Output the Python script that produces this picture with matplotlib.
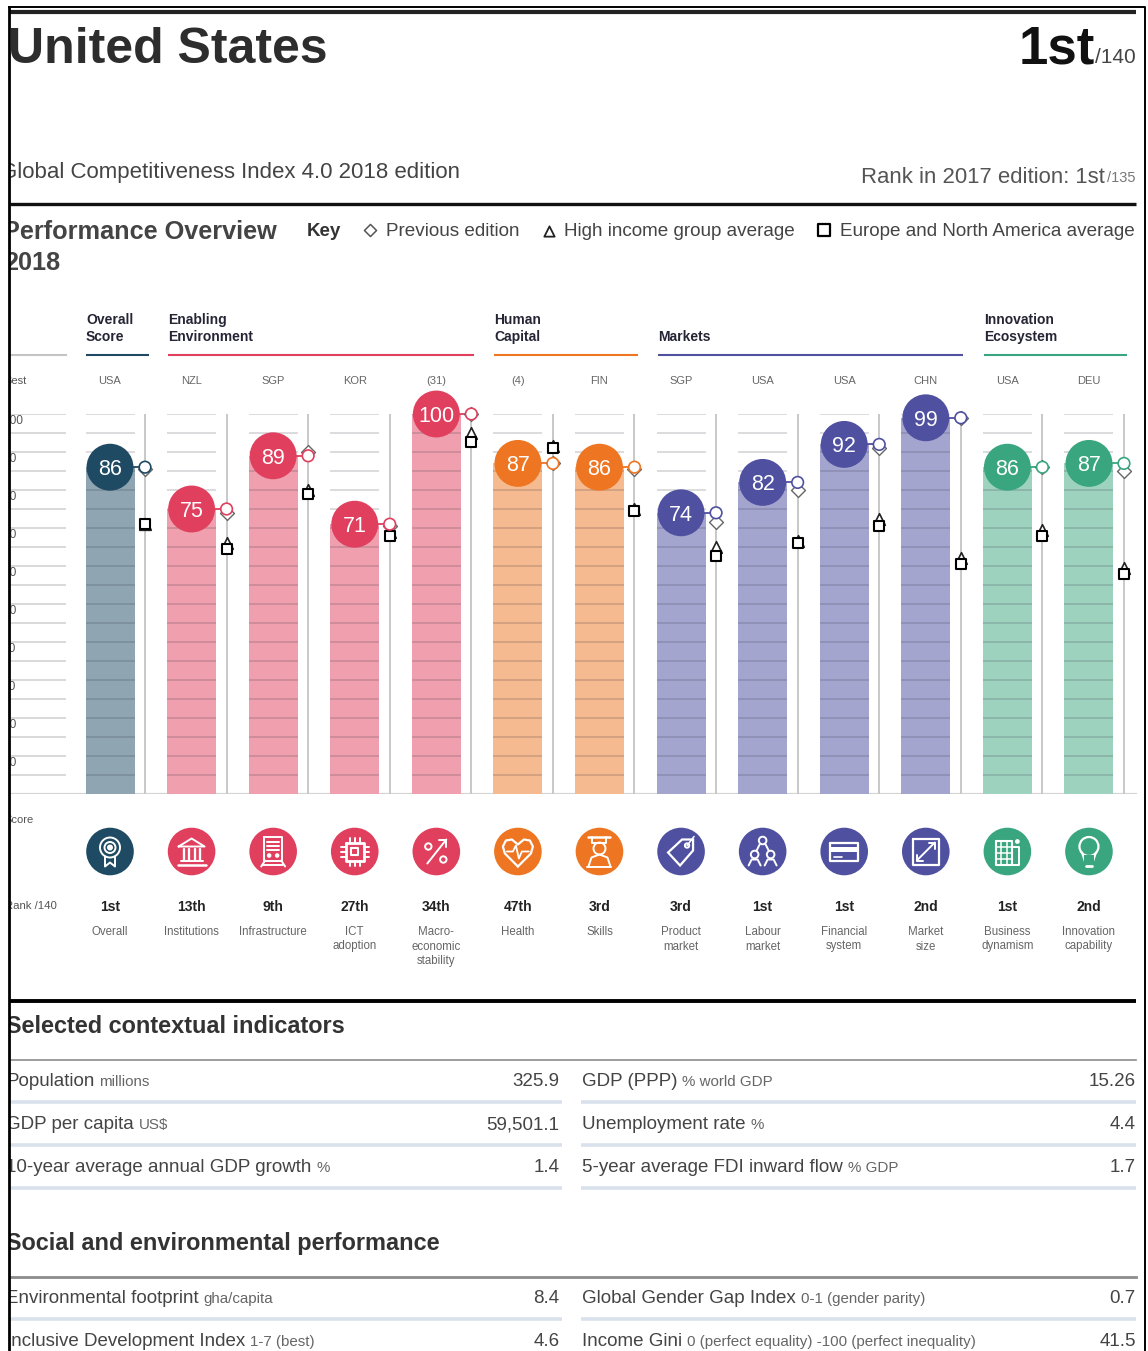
import matplotlib
matplotlib.use("Agg")
import matplotlib.pyplot as plt
from matplotlib.patches import Circle, Rectangle, Polygon

plt.rcParams['font.family'] = ['Liberation Sans', 'DejaVu Sans']

# ---------- data ----------
countries = ["USA", "NZL", "SGP", "KOR", "(31)", "(4)", "FIN", "SGP", "USA", "USA", "CHN", "USA", "DEU"]
scores = [86, 75, 89, 71, 100, 87, 86, 74, 82, 92, 99, 86, 87]
previous = [85.5, 74, 90, 70.5, 100, 87, 85.5, 71.5, 80, 91, 99, 86, 85]
high_income = [71, 66, 80, 69, 95, 91.5, 75, 65, 66.5, 72.5, 62, 69.5, 59.5]
regional = [71, 64.5, 79, 68, 92.5, 91, 74.5, 62.5, 66, 70.5, 60.5, 68, 58]
ranks = ["1st", "13th", "9th", "27th", "34th", "47th", "3rd", "3rd", "1st", "1st", "2nd", "1st", "2nd"]
pillars = ["Overall", "Institutions", "Infrastructure", "ICT\nadoption", "Macro-\neconomic\nstability",
           "Health", "Skills", "Product\nmarket", "Labour\nmarket", "Financial\nsystem",
           "Market\nsize", "Business\ndynamism", "Innovation\ncapability"]
groups = ["overall", "enabling", "enabling", "enabling", "enabling", "human", "human",
          "markets", "markets", "markets", "markets", "innovation", "innovation"]
dark = {"overall": "#1f4a63", "enabling": "#e03f5e", "human": "#ee7521", "markets": "#4f51a0", "innovation": "#3aa680"}
light = {"overall": "#8fa5b2", "enabling": "#ef9fae", "human": "#f6ba90", "markets": "#a4a5cf", "innovation": "#9dd2bf"}
group_titles = [("Overall", "Score"), ("Enabling", "Environment"), ("Human", "Capital"), ("", "Markets"), ("Innovation", "Ecosystem")]
group_keys = ["overall", "enabling", "human", "markets", "innovation"]
tick_values = list(range(100, -1, -10))
grid_values = list(range(100, -1, -5))

context_left = [("Population", "millions", "325.9"), ("GDP per capita", "US$", "59,501.1"),
                ("10-year average annual GDP growth", "%", "1.4")]
context_right = [("GDP (PPP)", "% world GDP", "15.26"), ("Unemployment rate", "%", "4.4"),
                 ("5-year average FDI inward flow", "% GDP", "1.7")]
social_left = [("Environmental footprint", "gha/capita", "8.4"), ("Inclusive Development Index", "1-7 (best)", "4.6")]
social_right = [("Global Gender Gap Index", "0-1 (gender parity)", "0.7"),
                ("Income Gini", "0 (perfect equality) -100 (perfect inequality)", "41.5")]

# ---------- layout ----------
W, H = 1148, 1351
fig = plt.figure(figsize=(W / 100, H / 100), dpi=100, facecolor="white")
tx = fig.add_axes([10 / W, 0, (W - 10) / W, 1], zorder=5)
tx.set_xlim(10, W); tx.set_ylim(H, 0); tx.axis("off"); tx.patch.set_alpha(0)
ax = fig.add_axes([10 / W, (H - 794) / H, (W - 10) / W, 380 / H], zorder=3)
STEP = 81.58
ax.set_xlim((10 - 110) / STEP, (W - 110) / STEP); ax.set_ylim(0, 100); ax.axis("off")
renderer = fig.canvas.get_renderer()


def T(x, y, s, size, color="#3c3c3c", ha="left", va="baseline", weight="normal", **kw):
    return tx.text(x, y, s, fontsize=size, color=color, ha=ha, va=va, fontweight=weight, clip_on=True, **kw)


def px(i):
    return ax.transData.transform((i, 0))[0]


# frame and rules
tx.plot([9.3, 9.3], [H, 7], color="black", lw=2.0, clip_on=False, zorder=20)
tx.plot([9, 1145, 1145], [7, 7, H], color="black", lw=1.4, clip_on=False)
tx.plot([10, 1136], [12, 12], color="#222222", lw=3, solid_capstyle="butt")
tx.plot([10, 1136], [204, 204], color="#111111", lw=2.4, solid_capstyle="butt")
tx.plot([10, 1136], [1001, 1001], color="#000000", lw=2.8, solid_capstyle="butt")

# header
T(8, 63, "United States", 36, color="#2d2d2d", weight="bold")
T(1095, 63, "1st", 38, color="#111111", weight="bold", ha="right")
T(1136, 63, "/140", 15, color="#444444", ha="right")
T(0, 178, "Global Competitiveness Index 4.0 2018 edition", 16, color="#444444")
T(1105, 183, "Rank in 2017 edition: 1st", 15.9, color="#555555", ha="right")
T(1136, 182, "/135", 10.5, color="#777777", ha="right")
T(3, 239, "Performance Overview", 18.2, color="#444444", weight="bold")
T(4, 270, "2018", 18.2, color="#444444", weight="bold")
T(307, 236, "Key", 13.5, color="#333333", weight="bold")
T(386, 236, "Previous edition", 13.6, color="#444444")
T(564, 236, "High income group average", 13.6, color="#444444")
T(840, 236, "Europe and North America average", 13.6, color="#444444")
tx.scatter([370], [230], marker="D", s=38, facecolor="white", edgecolor="#555555", lw=1.1)
tx.scatter([549], [231], marker="^", s=55, facecolor="white", edgecolor="#222222", lw=1.3)
tx.scatter([824], [230], marker="s", s=85, facecolor="white", edgecolor="black", lw=1.6)

# group headers
spans = [(86, 149), (168, 474), (494, 638), (658, 963), (984, 1127)]
for (x0, x1), key, (l1, l2) in zip(spans, group_keys, group_titles):
    tx.plot([x0, x1], [355, 355], color=dark[key], lw=1.5, solid_capstyle="butt")
    if l1:
        T(x0, 324, l1, 10, color="#252535", weight="bold")
    T(x0, 341, l2, 10, color="#252535", weight="bold")
tx.plot([10, 66], [355, 355], color="#c4c4c4", lw=1.5)

# left scale
T(4, 381, "Best", 8, color="#555555", va="center")
T(4, 820, "Score", 8, color="#555555", va="center")
T(5, 906, "Rank /140", 8.2, color="#555555", va="center")
for v in tick_values:
    a = ax.annotate(str(v), (ax.get_xlim()[0], v), xytext=(-7 * 0.72, -5), textcoords="offset points",
                    fontsize=8.6, color="#555555", va="center", ha="left", annotation_clip=False)
    a.set_clip_on(True); a.set_clip_box(tx.bbox)

# chart
xs = list(range(len(scores)))
BAR_W = 49 / STEP
OFF = 35 / STEP
left_end = (66 - 110) / STEP
ax.axhline(0, color="#d4d4d4", lw=1.6, zorder=1, xmax=(1136 - 10) / (W - 10))
ax.hlines(grid_values[:-1], ax.get_xlim()[0], left_end, color="#cfcfcf", lw=1.1, zorder=1)
ax.bar(xs, scores, width=BAR_W, color=[light[g] for g in groups], zorder=2)
for i, g in zip(xs, groups):
    ax.hlines(grid_values[:-1], i - BAR_W / 2, i + BAR_W / 2, color=(0.15, 0.15, 0.2, 0.19), lw=1.2, zorder=3)
    ax.vlines(i + OFF, 0, 100, color="#c8c8c8", lw=1.4, zorder=3)
    ax.plot([i, i + OFF], [scores[i]] * 2, color=dark[g], lw=1.3, zorder=4, clip_on=False)
ox = [i + OFF for i in xs]
ax.scatter(ox, previous, marker="D", s=50, facecolor="white", edgecolor="#666666", lw=1.0, zorder=5, clip_on=False)
ax.scatter(ox, high_income, marker="^", s=70, facecolor="white", edgecolor="#222222", lw=1.2, zorder=6, clip_on=False)
ax.scatter(ox, regional, marker="s", s=62, facecolor="white", edgecolor="black", lw=1.5, zorder=7, clip_on=False)
ax.scatter(ox, scores, marker="o", s=70, facecolor="white", edgecolor=[dark[g] for g in groups], lw=1.2, zorder=8, clip_on=False)
ax.scatter(xs, scores, marker="o", s=1140, color=[dark[g] for g in groups], zorder=9, clip_on=False, lw=0)
for i in xs:
    ax.text(i, scores[i], str(scores[i]), color="white", fontsize=15.5, ha="center", va="center_baseline", zorder=10, clip_on=False)
    T(px(i), 381, countries[i], 8, color="#666666", ha="center", va="center")
    T(px(i), 907, ranks[i], 10, color="#222222", ha="center", va="center", weight="bold")
    for k, line in enumerate(pillars[i].split("\n")):
        T(px(i), 932 + 14.5 * k, line, 8.3, color="#666666", ha="center", va="center")


# icons (decorative white line glyphs)
def L(cx, cy, pts, lw=1.4):
    tx.plot([cx + p[0] for p in pts], [cy + p[1] for p in pts], color="white", lw=lw, solid_joinstyle="round", solid_capstyle="round")


def C(cx, cy, x, y, r, fill=False, lw=1.4):
    tx.add_patch(Circle((cx + x, cy + y), r, facecolor="white" if fill else "none", edgecolor="white", lw=lw))


def R(cx, cy, x0, y0, x1, y1, lw=1.4):
    L(cx, cy, [(x0, y0), (x1, y0), (x1, y1), (x0, y1), (x0, y0)], lw)


def icon(i, c, y):
    if i == 0:
        C(c, y, 0, -4, 10); C(c, y, 0, -4, 5.5); C(c, y, 0, -4, 2, True)
        L(c, y, [(-5, 5), (-5, 15), (0, 11), (5, 15), (5, 5)])
    elif i == 1:
        L(c, y, [(-13, -5), (0, -13), (13, -5), (-13, -5)])
        for dx in (-8, -3, 3, 8):
            L(c, y, [(dx, -3), (dx, 8)], 1.7)
        L(c, y, [(-11, 9), (11, 9)]); L(c, y, [(-14, 13), (14, 13)], 1.8)
    elif i == 2:
        R(c, y, -9, -15, 9, 9)
        for dy in (-10, -6, -2):
            L(c, y, [(-6, dy), (6, dy)])
        C(c, y, -4, 4, 1.3, True); C(c, y, 4, 4, 1.3, True)
        L(c, y, [(-8, 9), (-12, 15)]); L(c, y, [(8, 9), (12, 15)]); L(c, y, [(-10, 13), (10, 13)])
    elif i == 3:
        R(c, y, -9, -9, 9, 9, 2); R(c, y, -3.5, -3.5, 3.5, 3.5, 1.5)
        for d in (-5, 0, 5):
            L(c, y, [(d, -14), (d, -9)]); L(c, y, [(d, 9), (d, 14)])
            L(c, y, [(-14, d), (-9, d)]); L(c, y, [(9, d), (14, d)])
    elif i == 4:
        L(c, y, [(-9, 12), (10, -12)]); L(c, y, [(3, -12), (10, -12), (10, -5)])
        C(c, y, -8, -5, 3.2); C(c, y, 7, 8, 3.2)
    elif i == 5:
        L(c, y, [(0, 15), (-13, 2), (-15, -5), (-12, -11), (-6, -12), (0, -7), (6, -12), (12, -11), (15, -5), (13, 2), (0, 15)], 1.6)
        L(c, y, [(-11, 0), (-5, 0), (-2, -6), (1, 7), (4, 0), (11, 0)], 1.3)
    elif i == 6:
        L(c, y, [(-11, -15), (11, -15)], 1.8); L(c, y, [(-7, -15), (-7, -9), (7, -9), (7, -15)])
        C(c, y, 0, -3, 6); L(c, y, [(-11, 15), (-8, 6), (0, 3), (8, 6), (11, 15)]); L(c, y, [(-12, 15), (12, 15)])
    elif i == 7:
        tx.add_patch(Polygon([(c - 13, y + 1), (c + 1, y - 12), (c + 12, y - 12), (c + 12, y - 1), (c - 1, y + 14)],
                             closed=True, fill=False, edgecolor="white", lw=1.6))
        C(c, y, 6, -6, 2.2); L(c, y, [(6, -6), (13, -15)], 1.1)
    elif i == 8:
        C(c, y, 0, -11, 3.8); C(c, y, -8, 3, 3.8); C(c, y, 8, 3, 3.8)
        L(c, y, [(-3, -7), (-6, -1)]); L(c, y, [(3, -7), (6, -1)])
        L(c, y, [(-14, 14), (-11, 8), (-5, 8), (-2, 14)]); L(c, y, [(2, 14), (5, 8), (11, 8), (14, 14)])
    elif i == 9:
        R(c, y, -14, -9, 14, 9, 1.6)
        tx.add_patch(Rectangle((c - 14, y - 5), 28, 5, color="white", lw=0))
        L(c, y, [(-10, 5), (-2, 5)], 1.2)
    elif i == 10:
        R(c, y, -13, -13, 13, 13, 1.6)
        L(c, y, [(-9, 9), (9, -9)]); L(c, y, [(3, -9), (9, -9), (9, -3)]); L(c, y, [(-9, 3), (-9, 9), (-3, 9)])
    elif i == 11:
        R(c, y, -11, -11, 5, 13, 1.5); L(c, y, [(5, -5), (12, -5), (12, 13), (5, 13)])
        for d in (-6, 0):
            L(c, y, [(d, -11), (d, 13)], 1.1)
        for d in (-5, 1, 7):
            L(c, y, [(-11, d), (5, d)], 1.1)
        C(c, y, 10, -10, 1.4, True)
    elif i == 12:
        C(c, y, 0, -5, 9.5, lw=1.6)
        tx.add_patch(Rectangle((c - 5, y + 3), 10, 8, facecolor=dark["innovation"], edgecolor="none", zorder=3))
        L(c, y, [(-7, 1), (-4, 10), (4, 10), (7, 1)], 1.5); L(c, y, [(-3, 14), (3, 14)], 2)


for i, g in zip(xs, groups):
    tx.add_patch(Circle((px(i), 851.5), 23.8, facecolor=dark[g], edgecolor="none"))
    icon(i, px(i), 851.5)


# tables
def row(x0, x1, y, label, unit, value):
    t = T(x0, y, label, 13.5, color="#444444")
    bb = t.get_window_extent(renderer)
    T(bb.x1 + 5, y, unit, 10.9, color="#666666")
    T(x1, y, value, 13.5, color="#444444", ha="right")


T(6, 1033, "Selected contextual indicators", 16.9, color="#333333", weight="bold")
T(6, 1250, "Social and environmental performance", 16.9, color="#333333", weight="bold")
tx.plot([10, 1136], [1060, 1060], color="#8c8c8c", lw=1.2)
tx.plot([10, 1136], [1277, 1277], color="#8c8c8c", lw=2)
for y, l, r in zip([1086, 1129, 1172], context_left, context_right):
    row(6, 559.5, y, *l); row(582, 1136, y, *r)
    tx.plot([10, 562], [y + 16, y + 16], color="#d9e2ec", lw=2.6, solid_capstyle="butt")
    tx.plot([581, 1136], [y + 16, y + 16], color="#d9e2ec", lw=2.6, solid_capstyle="butt")
for y, l, r, rule in zip([1303, 1346], social_left, social_right, [True, False]):
    row(6, 559.5, y, *l); row(582, 1136, y, *r)
    if rule:
        tx.plot([10, 562], [y + 16, y + 16], color="#d9e2ec", lw=2.6, solid_capstyle="butt")
        tx.plot([581, 1136], [y + 16, y + 16], color="#d9e2ec", lw=2.6, solid_capstyle="butt")

fig.savefig("out.png", dpi=100, facecolor="white")
